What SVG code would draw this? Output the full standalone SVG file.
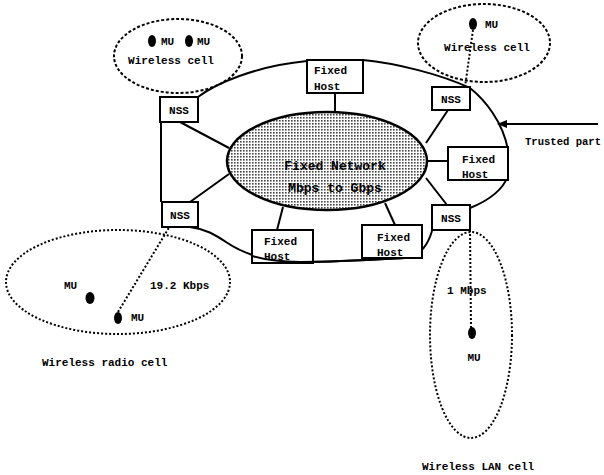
<svg xmlns="http://www.w3.org/2000/svg" width="604" height="475" viewBox="0 0 604 475">
<defs>
<pattern id="stipple" width="3" height="3" patternUnits="userSpaceOnUse">
<rect width="3" height="3" fill="#ffffff"/>
<rect x="0" y="0" width="1.6" height="1.6" fill="#444"/>
</pattern>
<marker id="arrow" markerWidth="10" markerHeight="8" refX="9" refY="4" orient="auto" markerUnits="userSpaceOnUse">
<path d="M0,0 L10,4 L0,8 Z" fill="#000"/>
</marker>
</defs>
<style>
text{font-family:"Liberation Mono","DejaVu Sans Mono",monospace;font-weight:bold;font-size:11px;fill:#000}
.box{fill:#fff;stroke:#000;stroke-width:2}
.line{fill:none;stroke:#000;stroke-width:2}
.cell{fill:none;stroke:#000;stroke-width:2;stroke-dasharray:3,2}
.radio{fill:none;stroke:#000;stroke-width:2;stroke-dasharray:2,2}
.dot{fill:#000}
.c{text-anchor:middle}
.big{font-size:13px}
</style>
<rect width="604" height="475" fill="#fff"/>

<g id="connectors">
<line class="line" x1="180" y1="122" x2="229" y2="148"/>
<line class="line" x1="190" y1="202" x2="229" y2="174"/>
<line class="line" x1="335" y1="93" x2="335" y2="113"/>
<line class="line" x1="283" y1="207" x2="277" y2="230"/>
<line class="line" x1="385" y1="203" x2="395" y2="225"/>
<line class="line" x1="426" y1="143" x2="448" y2="110"/>
<line class="line" x1="427" y1="161" x2="448" y2="161"/>
<line class="line" x1="426" y1="178" x2="447" y2="205"/>
<line class="radio" x1="118" y1="312" x2="170" y2="226"/>
<line class="radio" x1="470" y1="230" x2="471" y2="328"/>
<line class="radio" x1="473" y1="30" x2="465" y2="87"/>
<line class="line" x1="598" y1="124" x2="498" y2="124" marker-end="url(#arrow)"/>
</g>

<g id="trusted-boundary">
<path class="line" d="M198,97 C215,84 255,66 307,61 L363,60 C395,63 440,74 470,88 C485,100 503,122 508,150 L508,176 C502,192 485,202 470,208"/>
<path class="line" d="M432,231 C428,244 422,255 405,258 C370,260 340,262 300,262 C270,262 245,255 226,242 C214,234 205,229 190,227"/>
<line class="line" x1="161" y1="122" x2="161" y2="202"/>
</g>

<g id="fixed-network">
<ellipse cx="327" cy="161" rx="100" ry="49" fill="url(#stipple)" stroke="#000" stroke-width="2.5"/>
<text class="c big" x="335" y="170">Fixed Network</text>
<text class="c big" x="335" y="192">Mbps to Gbps</text>
</g>

<g id="nss-top-left">
<rect class="box" x="160" y="97" width="38" height="25"/>
<text class="c" x="179" y="114">NSS</text>
</g>
<g id="nss-bottom-left">
<rect class="box" x="162" y="202" width="36" height="25"/>
<text class="c" x="180" y="219">NSS</text>
</g>
<g id="nss-top-right">
<rect class="box" x="432" y="87" width="38" height="23"/>
<text class="c" x="451" y="103">NSS</text>
</g>
<g id="nss-bottom-right">
<rect class="box" x="432" y="205" width="38" height="25"/>
<text class="c" x="451" y="222">NSS</text>
</g>

<g id="host-top">
<rect class="box" x="307" y="60" width="56" height="33"/>
<text x="314" y="74">Fixed</text>
<text x="314" y="90">Host</text>
</g>
<g id="host-right">
<rect class="box" x="448" y="147" width="60" height="33"/>
<text x="462" y="163">Fixed</text>
<text x="462" y="178">Host</text>
</g>
<g id="host-bottom-left">
<rect class="box" x="252" y="230" width="61" height="33"/>
<text x="264" y="245">Fixed</text>
<text x="264" y="260">Host</text>
</g>
<g id="host-bottom-right">
<rect class="box" x="362" y="225" width="60" height="33"/>
<text x="377" y="241">Fixed</text>
<text x="377" y="256">Host</text>
</g>

<g id="trusted-boundary-overlay">
<path class="line" d="M405,258 C370,260 340,262 300,262 C280,262 262,259 252,256"/>
<line class="line" x1="508" y1="150" x2="508" y2="176"/>
</g>

<g id="wireless-cell-top-left">
<ellipse class="cell" cx="178" cy="56" rx="64" ry="37"/>
<ellipse class="dot" cx="152" cy="41" rx="4" ry="6"/>
<text x="161" y="45">MU</text>
<ellipse class="dot" cx="189" cy="41" rx="4" ry="6"/>
<text x="197" y="45">MU</text>
<text class="c" x="171" y="64">Wireless cell</text>
</g>

<g id="wireless-cell-top-right">
<ellipse class="cell" cx="484" cy="43" rx="66" ry="39"/>
<ellipse class="dot" cx="473" cy="24" rx="4" ry="6"/>
<text x="485" y="28">MU</text>
<text class="c" x="487" y="51">Wireless cell</text>
</g>

<g id="wireless-radio-cell">
<ellipse class="radio" cx="118" cy="282" rx="112" ry="52"/>
<text x="64" y="289">MU</text>
<ellipse class="dot" cx="90" cy="298" rx="4.5" ry="6"/>
<text x="150" y="289">19.2 Kbps</text>
<ellipse class="dot" cx="118" cy="318" rx="4" ry="6"/>
<text x="131" y="321">MU</text>
<text x="42" y="366">Wireless radio cell</text>
</g>

<g id="wireless-lan-cell">
<ellipse class="radio" cx="471" cy="335" rx="41" ry="103"/>
<text x="447" y="294">1 Mbps</text>
<ellipse class="dot" cx="472" cy="333" rx="4" ry="6"/>
<text class="c" x="474" y="361">MU</text>
<text x="422" y="470">Wireless LAN cell</text>
</g>

<g id="trusted-part-label">
<text x="525" y="145" style="font-size:10.5px" textLength="76" lengthAdjust="spacingAndGlyphs">Trusted part</text>
</g>
</svg>
